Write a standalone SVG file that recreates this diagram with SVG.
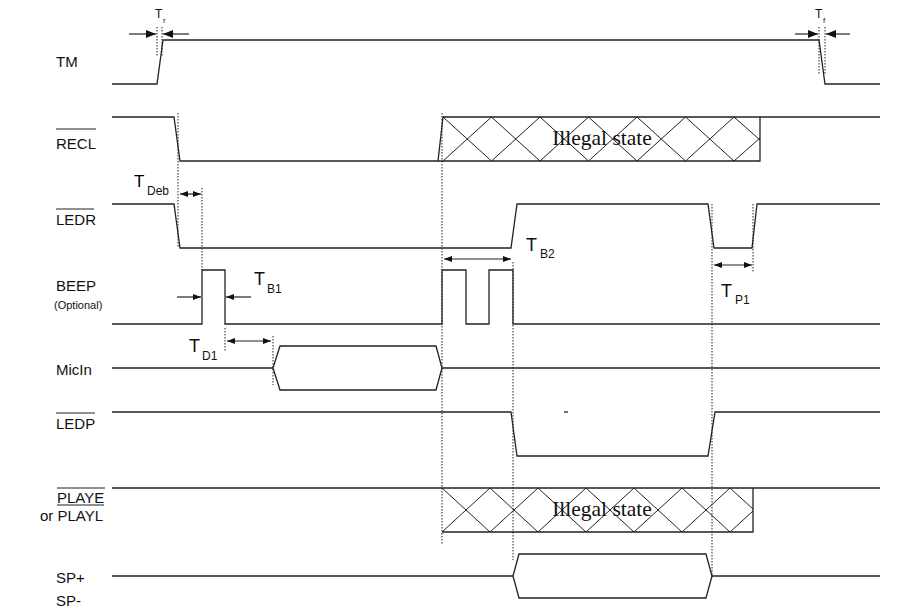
<svg xmlns="http://www.w3.org/2000/svg" width="917" height="609" viewBox="0 0 917 609">
<style>
.sig{fill:none;stroke:#222;stroke-width:1.3;stroke-linejoin:miter}
.hatch{fill:none;stroke:#222;stroke-width:1}
.dot{fill:none;stroke:#222;stroke-width:1;stroke-dasharray:1.5 1.5}
.arr{fill:none;stroke:#222;stroke-width:1.2}
.lbl{font-family:"Liberation Sans",Arial,sans-serif;font-size:15px;fill:#111}
.sm{font-family:"Liberation Sans",Arial,sans-serif;font-size:11px;fill:#111}
.tr{font-family:"Liberation Sans",Arial,sans-serif;font-size:12px;fill:#111}
.trs{font-family:"Liberation Sans",Arial,sans-serif;font-size:8px;fill:#111}
.tt{font-family:"Liberation Sans",Arial,sans-serif;font-size:18px;fill:#111}
.ts{font-family:"Liberation Sans",Arial,sans-serif;font-size:12px;fill:#111}
.ill{font-family:"Liberation Serif","Times New Roman",serif;font-size:21.5px;fill:#111}
.ovl{stroke:#222;stroke-width:1.1}
</style>
<defs>
<marker id="ah" markerUnits="userSpaceOnUse" markerWidth="10" markerHeight="8" refX="10" refY="4" orient="auto-start-reverse"><path d="M0,0 L10,4 L0,8 z" fill="#111"/></marker>
<marker id="as" markerUnits="userSpaceOnUse" markerWidth="8" markerHeight="6" refX="8" refY="3" orient="auto-start-reverse"><path d="M0,0 L8,3 L0,6 z" fill="#111"/></marker>
</defs>

<g id="labels">
<text class="lbl" x="56" y="67">TM</text>
<text class="lbl" x="56" y="149">RECL</text><line class="ovl" x1="56" y1="129" x2="96" y2="129"/>
<text class="lbl" x="56" y="225">LEDR</text><line class="ovl" x1="56" y1="209" x2="94" y2="209"/>
<text class="lbl" x="56" y="291">BEEP</text>
<text class="sm" x="54" y="309">(Optional)</text>
<text class="lbl" x="56" y="375">MicIn</text>
<text class="lbl" x="56" y="429">LEDP</text><line class="ovl" x1="56" y1="413" x2="95" y2="413"/>
<text class="lbl" x="57" y="503">PLAYE</text><line class="ovl" x1="57" y1="488" x2="105" y2="488"/>
<text class="lbl" x="40" y="521">or PLAYL</text><line class="ovl" x1="57" y1="505" x2="104" y2="505"/>
<text class="lbl" x="56" y="583">SP+</text>
<text class="lbl" x="56" y="606">SP-</text>
</g>

<g id="TM">
<path class="sig" d="M112,84 H157 L163,40 H819 L825,84 H880"/>
</g>
<g id="RECL">
<path class="sig" d="M112,117 H174 L180,161 H438 L443,117 H880"/>
<path class="sig" d="M438,161 H760 V117"/>
<path class="hatch" d="M443,117 L491.5,161 M443,161 L491.5,117 M491.5,117 L540,161 M491.5,161 L540,117 M540,117 L588.5,161 M540,161 L588.5,117 M588.5,117 L637,161 M588.5,161 L637,117 M637,117 L685.5,161 M637,161 L685.5,117 M685.5,117 L734,161 M685.5,161 L734,117 M734,117 L760,140 M734,161 L760,138"/>
<text class="ill" x="602" y="145" text-anchor="middle">Illegal state</text>
</g>
<g id="LEDR">
<path class="sig" d="M112,204 H174 L180,248 H511 L517,204 H708 L714,248 H752 L757,204 H880"/>
</g>
<g id="BEEP">
<path class="sig" d="M112,324 H202 V270 H225 V324 H442 V270 H466 V324 H489 V270 H513 V324 H880"/>
</g>
<g id="MicIn">
<path class="sig" d="M112,368 H273 L280,346 H436 L442,368 H880 M273,368 L280,390 H436 L442,368"/>
</g>
<g id="LEDP">
<path class="sig" d="M112,412 H511 L517,456 H708 L715,412 H880"/>
<line class="sig" x1="564" y1="412" x2="568" y2="412"/>
</g>
<g id="PLAYE">
<path class="sig" d="M112,488 H880 M442,532 H753 V488"/>
<path class="hatch" d="M442,488 L490,532 M442,532 L490,488 M490,488 L538,532 M490,532 L538,488 M538,488 L586,532 M538,532 L586,488 M586,488 L634,532 M586,532 L634,488 M634,488 L682,532 M634,532 L682,488 M682,488 L730,532 M682,532 L730,488 M730,488 L753,509 M730,532 L753,511"/>
<text class="ill" x="602" y="516" text-anchor="middle">Illegal state</text>
</g>
<g id="SP">
<path class="sig" d="M112,576 H513 L519,554 H706 L712,576 H880 M513,576 L519,598 H706 L712,576"/>
</g>

<g id="connectors">
<line class="dot" x1="157" y1="27" x2="157" y2="57"/>
<line class="dot" x1="162" y1="27" x2="162" y2="57"/>
<line class="dot" x1="819" y1="27" x2="819" y2="75"/>
<line class="dot" x1="825" y1="27" x2="825" y2="75"/>
<line class="dot" x1="178" y1="113" x2="178" y2="248"/>
<line class="dot" x1="202" y1="188" x2="202" y2="270"/>
<line class="dot" x1="225" y1="328" x2="225" y2="351"/>
<line class="dot" x1="273" y1="336" x2="273" y2="385"/>
<line class="dot" x1="442" y1="113" x2="442" y2="544"/>
<line class="dot" x1="513" y1="262" x2="513" y2="560"/>
<line class="dot" x1="712" y1="204" x2="712" y2="578"/>
<line class="dot" x1="753" y1="204" x2="753" y2="272"/>

<line class="arr" x1="129" y1="34" x2="156" y2="34" marker-end="url(#ah)"/>
<line class="arr" x1="189" y1="34" x2="163" y2="34" marker-end="url(#ah)"/>
<line class="arr" x1="795" y1="34" x2="818" y2="34" marker-end="url(#ah)"/>
<line class="arr" x1="850" y1="34" x2="826" y2="34" marker-end="url(#ah)"/>
<line class="arr" x1="180" y1="194" x2="201" y2="194" marker-start="url(#as)" marker-end="url(#as)"/>
<line class="arr" x1="177" y1="297" x2="201" y2="297" marker-end="url(#as)"/>
<line class="arr" x1="251" y1="297" x2="226" y2="297" marker-end="url(#as)"/>
<line class="arr" x1="227" y1="341" x2="271" y2="341" marker-start="url(#as)" marker-end="url(#as)"/>
<line class="arr" x1="444" y1="259" x2="511" y2="259" marker-start="url(#as)" marker-end="url(#as)"/>
<line class="arr" x1="714" y1="265" x2="752" y2="265" marker-start="url(#as)" marker-end="url(#as)"/>
</g>

<g id="timing-labels">
<text class="tr" x="155" y="18">T</text><text class="trs" x="163" y="23">r</text>
<text class="tr" x="815" y="18">T</text><text class="trs" x="823" y="23">f</text>
<text font-family="Liberation Sans,Arial,sans-serif" font-size="17" x="134" y="187">T</text><text class="ts" x="147" y="195">Deb</text>
<text class="tt" x="254" y="285">T</text><text class="ts" x="267" y="293">B1</text>
<text class="tt" x="189" y="352">T</text><text class="ts" x="202" y="360">D1</text>
<text class="tt" x="526" y="251">T</text><text class="ts" x="540" y="258">B2</text>
<text class="tt" x="721" y="297">T</text><text class="ts" x="735" y="304">P1</text>
</g>
</svg>
